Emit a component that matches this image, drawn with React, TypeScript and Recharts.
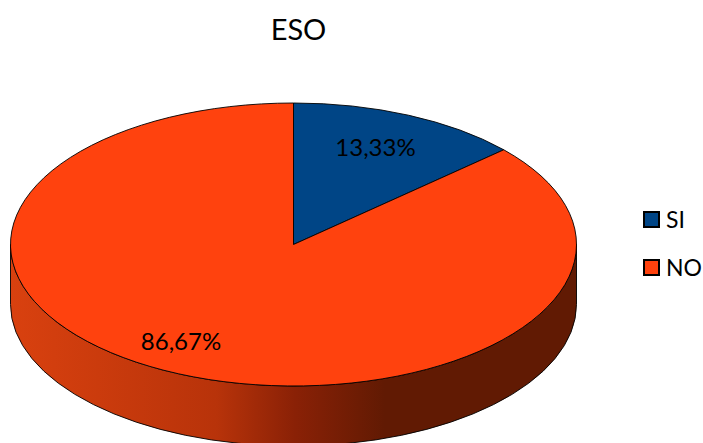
import React from 'react';
import { PieChart, Pie, Legend } from 'recharts';

const categories = ['SI', 'NO'];
const values = [13.33, 86.67];
const colors = ['#004586', '#ff420e'];
const chartTitle = 'ESO';

const tableData = categories.map((name, i) => ({ name, value: values[i], fill: colors[i] }));

const W = 703;
const H = 443;
const CX = 293.5;
const CY = 244.5;
const RADIUS = 283;
const SQUASH = 0.5; // tilt of the 3d pie
const DEPTH = 60;
const FONT = 'Lato, "Open Sans", sans-serif';

// hand placed, LibreOffice does not centre these on the slice
const labelSpots = [
  { x: 375.5, y: 146 },
  { x: 181, y: 340 },
];

const px = (a: number, r: number) => CX + r * Math.cos((a * Math.PI) / 180);
const py = (a: number, r: number) => CY - r * SQUASH * Math.sin((a * Math.PI) / 180);

function TopSlice(props: any) {
  const { startAngle, endAngle, outerRadius: r, fill } = props;
  const large = startAngle - endAngle > 180 ? 1 : 0;
  const d = `M${CX},${CY} L${px(startAngle, r)},${py(startAngle, r)} A${r},${r * SQUASH} 0 ${large} 1 ${px(endAngle, r)},${py(endAngle, r)} Z`;
  return <path d={d} fill={fill} stroke="#000" strokeWidth={0.9} strokeLinejoin="round" />;
}

// only the front half of the pie shows a wall
function WallSlice(props: any) {
  const { startAngle, endAngle, outerRadius: r } = props;
  const hi = Math.min(startAngle, 0);
  const lo = Math.max(endAngle, -180);
  if (hi <= lo) return null;
  const ry = r * SQUASH;
  const d = `M${px(lo, r)},${py(lo, r)} A${r},${ry} 0 0 0 ${px(hi, r)},${py(hi, r)} L${px(hi, r)},${py(hi, r) + DEPTH} A${r},${ry} 0 0 1 ${px(lo, r)},${py(lo, r) + DEPTH} Z`;
  return <path d={d} fill="url(#wallShade)" stroke="#000" strokeWidth={0.9} />;
}

function sliceLabel(props: any) {
  const spot = labelSpots[props.index];
  const text = props.value.toFixed(2).replace('.', ',') + '%';
  return (
    <text x={spot.x} y={spot.y} textAnchor="middle" dominantBaseline="central" fontFamily={FONT} fontSize={24} fill="#000">
      {text}
    </text>
  );
}

function LegendBox({ payload }: any) {
  // payload comes back repeated and reversed, so walk the categories instead
  const items = categories.map((name) => (payload || []).find((p: any) => p.value === name)).filter(Boolean);
  return (
    <div style={{ fontFamily: FONT, fontSize: 23, color: '#000' }}>
      {items.map((p: any) => (
        <div key={p.value} style={{ display: 'flex', alignItems: 'center', height: 48 }}>
          <span style={{ width: 13, height: 13, background: p.color, border: '2px solid #000', marginRight: 6, display: 'inline-block' }} />
          <span>{p.value}</span>
        </div>
      ))}
    </div>
  );
}

export default function App() {
  return (
    <div style={{ position: 'absolute', left: 0, top: 0, width: W, height: H, background: '#fff', overflow: 'hidden' }}>
      <PieChart width={W} height={H} margin={{ top: 0, right: 0, bottom: 0, left: 0 }}>
        <defs>
          <linearGradient id="wallShade" gradientUnits="userSpaceOnUse" x1={10} y1={0} x2={385} y2={0}>
            <stop offset="0%" stopColor="#d9410f" />
            <stop offset="55%" stopColor="#b8330a" />
            <stop offset="76%" stopColor="#8a2106" />
            <stop offset="100%" stopColor="#611a03" />
          </linearGradient>
        </defs>
        <text x={298.5} y={28} textAnchor="middle" dominantBaseline="central" fontFamily={FONT} fontSize={29} fill="#000">
          {chartTitle}
        </text>
        <Pie
          data={tableData}
          dataKey="value"
          nameKey="name"
          cx={CX}
          cy={CY}
          outerRadius={RADIUS}
          startAngle={90}
          endAngle={-270}
          legendType="none"
          shape={WallSlice}
          isAnimationActive={false}
        />
        <Pie
          data={tableData}
          dataKey="value"
          nameKey="name"
          cx={CX}
          cy={CY}
          outerRadius={RADIUS}
          startAngle={90}
          endAngle={-270}
          legendType="square"
          shape={TopSlice}
          label={sliceLabel}
          labelLine={false}
          isAnimationActive={false}
        />
        <Legend
          layout="vertical"
          content={<LegendBox />}
          wrapperStyle={{ position: 'absolute', left: 643, top: 195, width: 60 }}
        />
      </PieChart>
    </div>
  );
}
